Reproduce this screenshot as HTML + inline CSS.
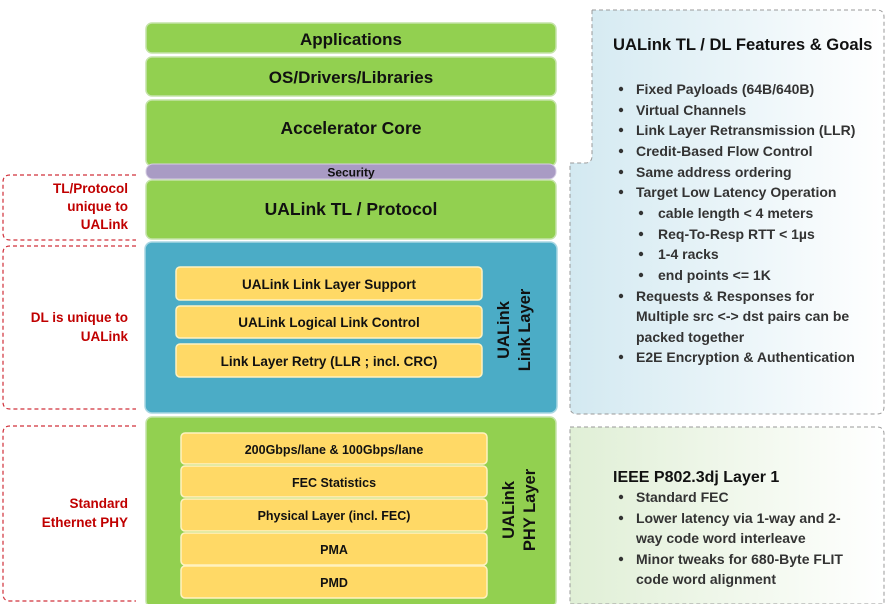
<!DOCTYPE html>
<html><head><meta charset="utf-8"><style>
html,body{margin:0;padding:0;background:#fff;}
svg{display:block;font-family:"Liberation Sans",sans-serif;font-weight:bold;}
</style></head><body>
<svg width="885" height="604" viewBox="0 0 885 604" xmlns="http://www.w3.org/2000/svg">
<defs>
<linearGradient id="gb" x1="0" x2="1" y1="0" y2="0"><stop offset="0" stop-color="#d3e9f1"/><stop offset="1" stop-color="#ffffff"/></linearGradient>
<linearGradient id="gg" x1="0" x2="1" y1="0" y2="0"><stop offset="0" stop-color="#e0efd6"/><stop offset="1" stop-color="#ffffff"/></linearGradient>
</defs>
<g fill="none" stroke="#d0303a" stroke-width="1.2" stroke-dasharray="4,3">
<path d="M136 175 H10 Q3 175 3 182 V233 Q3 240 10 240 H136"/>
<path d="M136 246 H10 Q3 246 3 253 V402 Q3 409 10 409 H136"/>
<path d="M136 426 H10 Q3 426 3 433 V594 Q3 601 10 601 H136"/>
</g>
<g fill="#c00000" font-size="13.5" text-anchor="end">
<text x="128" y="193">TL/Protocol</text>
<text x="128" y="211">unique to</text>
<text x="128" y="229">UALink</text>
<text x="128" y="322">DL is unique to</text>
<text x="128" y="341">UALink</text>
<text x="128" y="508">Standard</text>
<text x="128" y="527">Ethernet PHY</text>
</g>
<path d="M592 10 H877 Q884 10 884 17 V407 Q884 414 877 414 H577 Q570 414 570 407 V163 H585 Q592 163 592 156 Z" fill="url(#gb)" stroke="#999" stroke-width="1" stroke-dasharray="4,3"/>
<path d="M570 427 H877 Q884 427 884 434 V604 H570 Z" fill="url(#gg)" stroke="#999" stroke-width="1" stroke-dasharray="4,3"/>
<text x="613" y="50" font-size="16.6" fill="#111">UALink TL / DL Features &amp; Goals</text>
<g font-size="14" fill="#333" font-weight="bold">
<text x="636" y="94">Fixed Payloads (64B/640B)</text>
<text x="636" y="115">Virtual Channels</text>
<text x="636" y="135">Link Layer Retransmission (LLR)</text>
<text x="636" y="156">Credit-Based Flow Control</text>
<text x="636" y="177">Same address ordering</text>
<text x="636" y="197">Target Low Latency Operation</text>
<text x="658" y="218">cable length  &lt; 4 meters</text>
<text x="658" y="239">Req-To-Resp RTT &lt; 1µs</text>
<text x="658" y="259">1-4 racks</text>
<text x="658" y="280">end points &lt;= 1K</text>
<text x="636" y="301">Requests &amp; Responses for</text>
<text x="636" y="321">Multiple src &lt;-&gt; dst pairs can be</text>
<text x="636" y="342">packed together</text>
<text x="636" y="362">E2E Encryption &amp; Authentication</text>
</g>
<g fill="#333">
<circle cx="621" cy="89" r="2.2"/><circle cx="621" cy="110" r="2.2"/><circle cx="621" cy="130" r="2.2"/><circle cx="621" cy="151" r="2.2"/><circle cx="621" cy="172" r="2.2"/><circle cx="621" cy="192" r="2.2"/>
<circle cx="641" cy="213" r="2.2"/><circle cx="641" cy="234" r="2.2"/><circle cx="641" cy="254" r="2.2"/><circle cx="641" cy="275" r="2.2"/>
<circle cx="621" cy="296" r="2.2"/><circle cx="621" cy="357" r="2.2"/>
</g>
<text x="613" y="482" font-size="16" fill="#111">IEEE P802.3dj Layer 1</text>
<g font-size="14" fill="#333">
<text x="636" y="502">Standard FEC</text>
<text x="636" y="523">Lower latency via 1-way and 2-</text>
<text x="636" y="543">way code word interleave</text>
<text x="636" y="564">Minor tweaks for 680-Byte FLIT</text>
<text x="636" y="584">code word alignment</text>
<circle cx="621" cy="497" r="2.2"/><circle cx="621" cy="518" r="2.2"/><circle cx="621" cy="559" r="2.2"/>
</g>
<g stroke="#c4e3a8" stroke-width="1.5">
<rect x="146" y="23" width="410" height="30" rx="6" fill="#92d050"/>
<rect x="146" y="57" width="410" height="39" rx="6" fill="#92d050"/>
<rect x="146" y="100" width="410" height="66" rx="6" fill="#92d050"/>
<rect x="146" y="180" width="410" height="59" rx="6" fill="#92d050"/>
<rect x="146" y="417" width="410" height="190" rx="6" fill="#92d050"/>
</g>
<rect x="146" y="164" width="410" height="15" rx="7" fill="#a99bc4" stroke="#d6cde4" stroke-width="1"/>
<rect x="145" y="242" width="412" height="171" rx="7" fill="#4bacc6" stroke="#a8d6e2" stroke-width="1.5"/>
<g fill="#111" text-anchor="middle">
<text x="351" y="45" font-size="17">Applications</text>
<text x="351" y="83" font-size="17">OS/Drivers/Libraries</text>
<text x="351" y="134" font-size="17.5">Accelerator Core</text>
<text x="351" y="176.5" font-size="12">Security</text>
<text x="351" y="215" font-size="17.5">UALink TL / Protocol</text>
</g>
<g fill="#ffd966" stroke="#fff2c0" stroke-width="1.5">
<rect x="176" y="267" width="306" height="33" rx="4"/>
<rect x="176" y="306" width="306" height="32" rx="4"/>
<rect x="176" y="344" width="306" height="33" rx="4"/>
<rect x="181" y="433" width="306" height="31" rx="4"/>
<rect x="181" y="466" width="306" height="31" rx="4"/>
<rect x="181" y="499" width="306" height="32" rx="4"/>
<rect x="181" y="533" width="306" height="32" rx="4"/>
<rect x="181" y="566" width="306" height="32" rx="4"/>
</g>
<g fill="#111" text-anchor="middle" font-size="13.5">
<text x="329" y="289">UALink Link Layer Support</text>
<text x="329" y="327">UALink Logical Link Control</text>
<text x="329" y="366">Link Layer Retry (LLR ; incl. CRC)</text>
<text x="334" y="454" font-size="12.5">200Gbps/lane &amp; 100Gbps/lane</text>
<text x="334" y="487" font-size="12.5">FEC Statistics</text>
<text x="334" y="520" font-size="12.5">Physical Layer (incl. FEC)</text>
<text x="334" y="554" font-size="12.5">PMA</text>
<text x="334" y="587" font-size="12.5">PMD</text>
</g>
<g fill="#111" text-anchor="middle" font-size="16.5">
<text transform="translate(509,330) rotate(-90)">UALink</text>
<text transform="translate(530,330) rotate(-90)">Link Layer</text>
<text transform="translate(514,510) rotate(-90)">UALink</text>
<text transform="translate(535,510) rotate(-90)">PHY Layer</text>
</g>
</svg>
</body></html>
